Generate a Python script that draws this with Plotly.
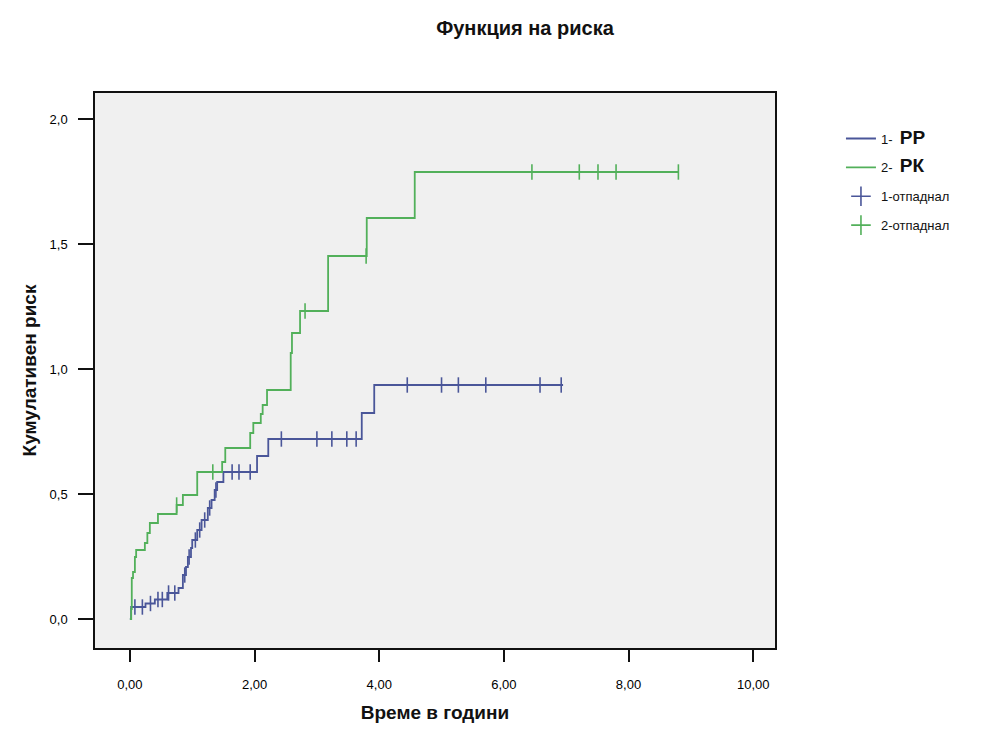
import numpy as np
import plotly.graph_objects as go

# Кумулативен риск - стъпки (време на събитие, стойност след стъпката)
pp_t = [0.02, 0.25, 0.40, 0.60, 0.78, 0.85, 0.90, 0.93, 0.98, 1.00, 1.08, 1.15,
        1.25, 1.31, 1.36, 1.40, 1.50, 2.04, 2.22, 3.72, 3.92]
pp_h = [0.048, 0.062, 0.078, 0.104, 0.124, 0.176, 0.208, 0.248, 0.284, 0.316, 0.356, 0.396,
        0.444, 0.476, 0.516, 0.548, 0.588, 0.652, 0.720, 0.824, 0.936]
pp_end = 6.95
pp_cens = [0.08, 0.20, 0.33, 0.45, 0.52, 0.62, 0.72, 0.88, 0.95, 1.05, 1.12, 1.20,
           1.28, 1.38, 1.64, 1.75, 1.93, 2.43, 3.00, 3.24, 3.48, 3.63,
           4.45, 5.00, 5.27, 5.71, 6.58, 6.92]

rk_t = [0.02, 0.03, 0.05, 0.08, 0.10, 0.24, 0.28, 0.32, 0.45, 0.75, 0.85, 1.08,
        1.48, 1.53, 1.93, 1.98, 2.10, 2.13, 2.20, 2.58, 2.60, 2.73, 3.18, 3.80, 4.57]
rk_h = [0.040, 0.164, 0.188, 0.248, 0.276, 0.304, 0.344, 0.384, 0.420, 0.456, 0.496, 0.588,
        0.628, 0.684, 0.744, 0.784, 0.820, 0.856, 0.916, 1.064, 1.144, 1.232, 1.452, 1.604, 1.788]
rk_end = 8.80
rk_cens = [0.75, 1.33, 2.81, 3.79, 6.45, 7.21, 7.51, 7.80, 8.80]

x_ticks = [0, 2, 4, 6, 8, 10]
y_ticks = [0.0, 0.5, 1.0, 1.5, 2.0]

blue = "#4a5699"
green = "#52b05a"


def step_xy(t, h, end):
    x = [0] + list(t) + [end]
    y = [0] + list(h) + [h[-1]]
    return x, y


def cens_y(t, h, c):
    idx = np.searchsorted(np.array(t), np.array(c), side="right") - 1
    return [h[i] if i >= 0 else 0 for i in idx]


fig = go.Figure()

x, y = step_xy(pp_t, pp_h, pp_end)
fig.add_trace(go.Scatter(x=x, y=y, mode="lines", line=dict(color=blue, width=1.8, shape="hv"),
                         name="1-  <b><span style='font-size:19px'>РР</span></b>", legendgroup="a"))
x, y = step_xy(rk_t, rk_h, rk_end)
fig.add_trace(go.Scatter(x=x, y=y, mode="lines", line=dict(color=green, width=1.8, shape="hv"),
                         name="2-  <b><span style='font-size:19px'>РК</span></b>", legendgroup="b"))

# цензурирани наблюдения
fig.add_trace(go.Scatter(x=pp_cens, y=cens_y(pp_t, pp_h, pp_cens), mode="markers",
                         marker=dict(symbol="line-ns-open", size=11, color=blue, line=dict(color=blue, width=1.6)),
                         showlegend=False))
fig.add_trace(go.Scatter(x=rk_cens, y=cens_y(rk_t, rk_h, rk_cens), mode="markers",
                         marker=dict(symbol="line-ns-open", size=11, color=green, line=dict(color=green, width=1.6)),
                         showlegend=False))
fig.add_trace(go.Scatter(x=[None], y=[None], mode="markers", name="1-отпаднал", legendgroup="c",
                         marker=dict(symbol="cross-thin-open", size=14, color=blue, line=dict(color=blue, width=1.6))))
fig.add_trace(go.Scatter(x=[None], y=[None], mode="markers", name="2-отпаднал", legendgroup="d",
                         marker=dict(symbol="cross-thin-open", size=14, color=green, line=dict(color=green, width=1.6))))

fig.update_layout(
    width=981, height=729,
    separators=",.",
    font=dict(family="Liberation Sans, Arial", size=12, color="#111"),
    title=dict(text="<b>Функция на риска</b>", x=0.527, xanchor="center", y=0.973, yanchor="middle",
               font=dict(size=20, color="#111")),
    margin=dict(l=87, r=214, t=85, b=89),
    paper_bgcolor="white",
    plot_bgcolor="#f0f0f0",
    showlegend=True,
    legend=dict(x=1.097, y=0.945, xanchor="left", yanchor="top", bgcolor="rgba(0,0,0,0)",
                font=dict(size=13, color="#111"), tracegroupgap=9),
    xaxis=dict(range=[-0.56, 10.35], tickvals=x_ticks, tickformat=".2f", showgrid=False, zeroline=False,
               ticks="outside", ticklen=12, tickwidth=1.5, tickcolor="#111", ticklabelstandoff=12,
               showline=True, linecolor="#111", linewidth=1.5, mirror=True,
               title=dict(text="<b>Време в години</b>", font=dict(size=19), standoff=14),
               tickfont=dict(size=13, color="#000")),
    yaxis=dict(range=[-0.116, 2.104], tickvals=y_ticks, tickformat=".1f", showgrid=False, zeroline=False,
               ticks="outside", ticklen=15, tickwidth=1.5, tickcolor="#111", ticklabelstandoff=8,
               showline=True, linecolor="#111", linewidth=1.5, mirror=True,
               title=dict(text="<b>Кумулативен риск</b>", font=dict(size=19), standoff=8),
               tickfont=dict(size=13, color="#000")),
)

fig.write_html("out.html")
